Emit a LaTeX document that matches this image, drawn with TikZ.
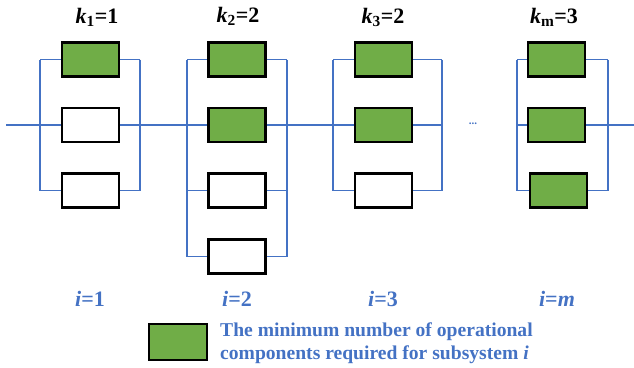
\documentclass[tikz,border=0pt]{standalone}
\usepackage{fontspec}
\setmainfont{Liberation Serif}
\definecolor{wire}{HTML}{4472C4}
\definecolor{ongreen}{HTML}{70AD47}
\tikzset{
  comp/.style={draw=black, line width=2.2pt, minimum width=57pt, minimum height=34pt, inner sep=0pt, fill=white},
  oncomp/.style={comp, fill=ongreen},
  wireline/.style={draw=wire, line width=1.2pt},
  klabel/.style={font=\bfseries\fontsize{22}{26}\selectfont, inner sep=0pt},
  ilabel/.style={font=\bfseries\fontsize{22}{26}\selectfont, text=wire, inner sep=0pt},
}
\begin{document}
\begin{tikzpicture}[x=1pt, y=-1pt]
\useasboundingbox (0,0) rectangle (634,367);

% ---- subsystem 1 ----
\node[oncomp] (a1) at (90.5,59.5) {};
\node[comp]   (a2) at (90.5,125) {};
\node[comp]   (a3) at (90.5,190.5) {};
\coordinate (aL1) at (40,59.5);  \coordinate (aL3) at (40,190.5);
\coordinate (aR1) at (140,59.5); \coordinate (aR3) at (140,190.5);
\coordinate (aL2) at (40,125);   \coordinate (aR2) at (140,125);

% ---- subsystem 2 ----
\node[oncomp] (b1) at (237,59.5) {};
\node[oncomp] (b2) at (237,125) {};
\node[comp]   (b3) at (237,190.5) {};
\node[comp]   (b4) at (237,256.5) {};
\coordinate (bL1) at (187,59.5);  \coordinate (bL4) at (187,256.5);
\coordinate (bR1) at (287,59.5);  \coordinate (bR4) at (287,256.5);
\coordinate (bL2) at (187,125);   \coordinate (bR2) at (287,125);
\coordinate (bL3) at (187,190.5); \coordinate (bR3) at (287,190.5);

% ---- subsystem 3 ----
\node[oncomp] (c1) at (383.5,59.5) {};
\node[oncomp] (c2) at (383.5,125) {};
\node[comp]   (c3) at (383.5,190.5) {};
\coordinate (cL1) at (333,59.5);  \coordinate (cL3) at (333,190.5);
\coordinate (cR1) at (442,59.5);  \coordinate (cR3) at (442,190.5);
\coordinate (cL2) at (333,125);   \coordinate (cR2) at (442,125);

% ---- subsystem m ----
\node[oncomp] (d1) at (556.5,59.5) {};
\node[oncomp] (d2) at (556.5,125) {};
\node[oncomp] (d3) at (558.5,190.5) {};
\coordinate (dL1) at (517,59.5);  \coordinate (dL3) at (517,190.5);
\coordinate (dR1) at (608,59.5);  \coordinate (dR3) at (608,190.5);
\coordinate (dL2) at (517,125);   \coordinate (dR2) at (608,125);

% ---- series line ends ----
\coordinate (in)  at (6,125);
\coordinate (out) at (634,125);

% ---- wiring ----
\path[wireline]
  (aL1) -- (aL3) (aR1) -- (aR3)
  (aL1) -- (a1.west) (a1.east) -- (aR1)
  (aL2) -- (a2.west) (a2.east) -- (aR2)
  (aL3) -- (a3.west) (a3.east) -- (aR3)
  (bL1) -- (bL4) (bR1) -- (bR4)
  (bL1) -- (b1.west) (b1.east) -- (bR1)
  (bL2) -- (b2.west) (b2.east) -- (bR2)
  (bL3) -- (b3.west) (b3.east) -- (bR3)
  (bL4) -- (b4.west) (b4.east) -- (bR4)
  (cL1) -- (cL3) (cR1) -- (cR3)
  (cL1) -- (c1.west) (c1.east) -- (cR1)
  (cL2) -- (c2.west) (c2.east) -- (cR2)
  (cL3) -- (c3.west) (c3.east) -- (cR3)
  (dL1) -- (dL3) (dR1) -- (dR3)
  (dL1) -- (d1.west) (d1.east) -- (dR1)
  (dL2) -- (d2.west) (d2.east) -- (dR2)
  (dL3) -- (d3.west) (d3.east) -- (dR3)
  (in) -- (aL2) (aR2) -- (bL2) (bR2) -- (cL2) (dR2) -- (out);

\node[text=wire, font=\bfseries\fontsize{11}{12}\selectfont, inner sep=0pt] (dots) at (473,124) {...};

% ---- thresholds ----
\node[klabel] (k1) at (97,17) {\textit{k}\textsubscript{1}=1};
\node[klabel] (k2) at (238,16) {\textit{k}\textsubscript{2}=2};
\node[klabel] (k3) at (383,17) {\textit{k}\textsubscript{3}=2};
\node[klabel] (km) at (554,17) {\textit{k}\textsubscript{m}=3};

% ---- subsystem indices ----
\node[ilabel] (i1) at (90,299) {\textit{i}=1};
\node[ilabel] (i2) at (237,299) {\textit{i}=2};
\node[ilabel] (i3) at (383,299) {\textit{i}=3};
\node[ilabel] (im) at (557,299) {\textit{i}=\textit{m}};

% ---- legend ----
\node[oncomp, minimum width=58pt, minimum height=36pt] (key) at (178,342) {};
\node[anchor=west, text=wire, align=left, inner sep=0pt,
      font=\bfseries\fontsize{19.6}{23}\selectfont] (keytext) at (220,343.5)
  {The minimum number of operational\\components required for subsystem \textit{i}};
\end{tikzpicture}
\end{document}
